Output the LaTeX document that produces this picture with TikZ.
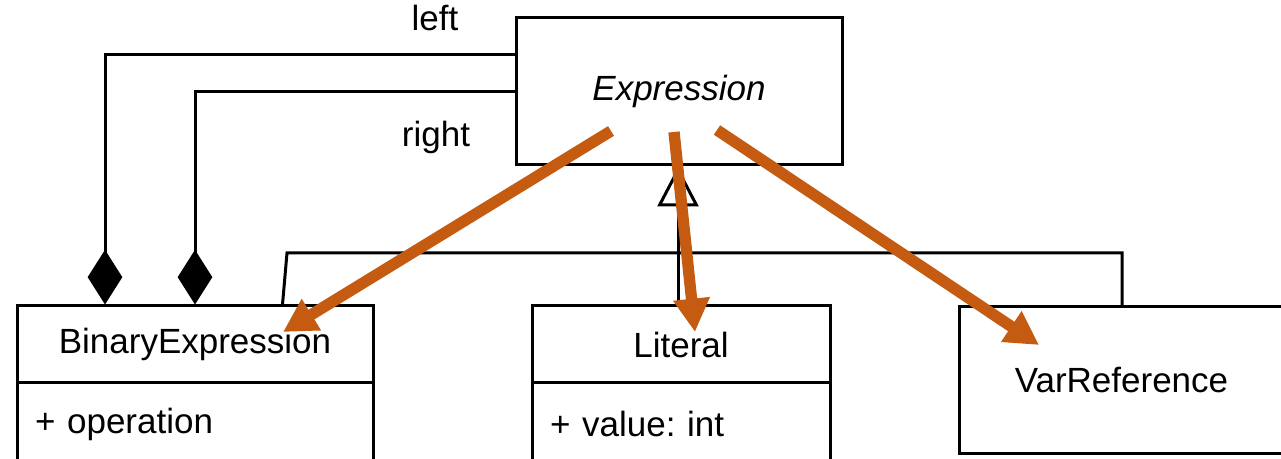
\documentclass[tikz,border=0pt]{standalone}
\usepackage{fontspec}
\setmainfont{Liberation Sans}
\usetikzlibrary{arrows.meta,calc}
\definecolor{accent}{RGB}{197,90,17}
\frenchspacing
\begin{document}
\begin{tikzpicture}[x=0.75pt,y=-0.75pt,
  umlbox/.style={draw=black, line width=2.25pt, inner sep=0pt, fill=white,
    font=\fontsize{26.25}{31}\selectfont},
  attrbox/.style={umlbox, inner xsep=13.5pt, align=left},
  lbl/.style={font=\fontsize{26.25}{31}\selectfont, inner sep=0pt, anchor=base},
  line/.style={draw=black, line width=2.25pt},
  assoc/.style={line, -{Diamond[length=41pt, width=26pt]}},
  inherit/.style={line, -{Triangle[open, length=30pt, width=30.75pt]}},
  flow/.style={draw=accent, line width=8.5pt, -{Triangle[length=25pt, width=26pt]}}]
\useasboundingbox (0,0) rectangle (1281,459);
\clip (0,0) rectangle (1281,459);

% classes
\node[umlbox, minimum width=244.5pt, minimum height=110.25pt] (expr) at (679,91.5) {\raisebox{-1.2pt}{\itshape Expression}};
\node[umlbox, minimum width=267pt, minimum height=57.75pt] (bin) at (195,344.5) {BinaryExpression};
\node[attrbox, text width=240pt, minimum height=61.5pt] (binattr) at (195,424) {+ operation};
\node[umlbox, minimum width=223.5pt, minimum height=57.75pt] (lit) at (681,344.5) {Literal};
\node[attrbox, text width=196.5pt, minimum height=61.5pt] (litattr) at (681,424) {+ value: int};
\node[umlbox, minimum width=243.75pt, minimum height=109.5pt] (var) at (1121.5,380) {VarReference};

% labels
\node[lbl] (leftlbl) at (435,31) {left};
\node[lbl] (rightlbl) at (436,147) {right};

% helper coordinates
\coordinate (lrow) at (0,55);
\coordinate (rrow) at (0,92);
\coordinate (lx) at (105,0);
\coordinate (rx) at (195,0);
\coordinate (tx) at (678,0);
\coordinate (vx) at (1122,0);
\coordinate (barl) at (287,253);

% compositions
\draw[assoc] (expr.west |- lrow) -| (bin.north -| lx);
\draw[assoc] (expr.west |- rrow) -| (bin.north -| rx);

% generalization
\draw[line] ($(bin.north west)+(267,0)$) -- (barl) -| (var.north -| vx);
\draw[inherit] (lit.north -| tx) -- (expr.south -| tx);

% highlighted arrows
\coordinate (s1) at (611,131);
\coordinate (t1) at (283,332);
\coordinate (s2) at (674,132);
\coordinate (t2) at (695,332);
\coordinate (s3) at (717,130);
\coordinate (t3) at (1039,345);
\draw[flow] (s1) -- (t1);
\draw[flow] (s2) -- (t2);
\draw[flow] (s3) -- (t3);
\end{tikzpicture}
\end{document}
